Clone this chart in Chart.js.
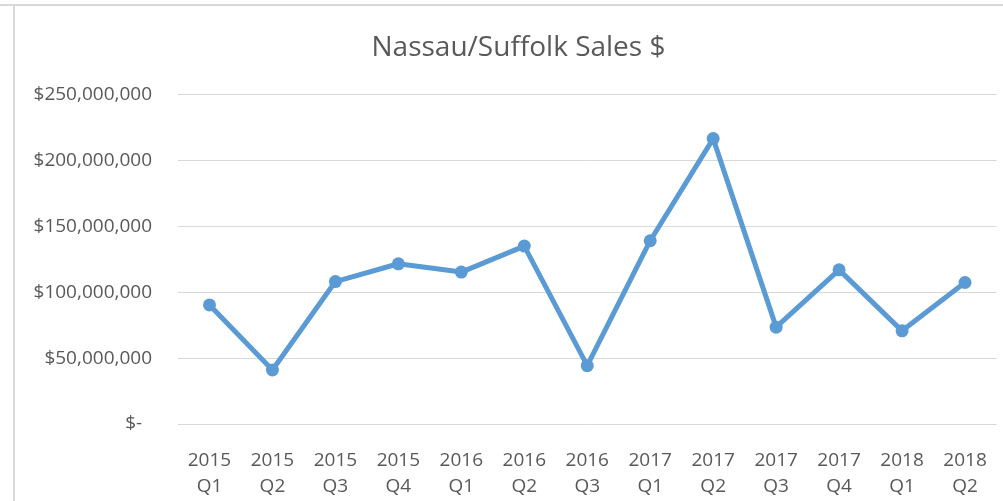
<!DOCTYPE html>
<html>
<head>
<meta charset="utf-8">
<script src="https://cdn.jsdelivr.net/npm/chart.js@4.4.0/dist/chart.umd.min.js"></script>
<style>
  html, body { margin: 0; padding: 0; background: #ffffff; }
  #wrap { position: relative; width: 1003px; height: 501px; overflow: hidden; }
  #topline { position: absolute; left: 0; top: 4px; width: 1003px; height: 2px; background: #d9d9d9; }
  #leftline { position: absolute; left: 13px; top: 4px; width: 2px; height: 497px; background: #d9d9d9; }
  canvas { position: absolute; left: 0; top: 0; }
</style>
</head>
<body>
<div id="wrap">
  <canvas id="c" width="1003" height="501"></canvas>
  <div id="topline"></div>
  <div id="leftline"></div>
</div>
<script>
const categories = [
  ['2015', 'Q1'], ['2015', 'Q2'], ['2015', 'Q3'], ['2015', 'Q4'],
  ['2016', 'Q1'], ['2016', 'Q2'], ['2016', 'Q3'],
  ['2017', 'Q1'], ['2017', 'Q2'], ['2017', 'Q3'], ['2017', 'Q4'],
  ['2018', 'Q1'], ['2018', 'Q2']
];
const salesValues = [
  90400000, 41000000, 108100000, 121600000,
  115300000, 135000000, 44300000,
  139100000, 216600000, 73500000, 117000000,
  70700000, 107400000
];
const yTickValues = [0, 50000000, 100000000, 150000000, 200000000, 250000000];
const chartTitle = 'Nassau/Suffolk Sales $';

const FONT = '"Open Sans", "Noto Sans", sans-serif';
const TEXT = '#595959';
const LINE = '#5b9bd5';

const shiftTitle = {
  id: 'shiftTitle',
  afterLayout(chart) {
    const t = chart.titleBlock;
    if (t) { t.left += 10; t.width -= 10; }
  }
};

new Chart(document.getElementById('c'), {
  type: 'line',
  plugins: [shiftTitle],
  data: {
    labels: categories,
    datasets: [{
      label: 'Sales',
      data: salesValues,
      borderColor: LINE,
      backgroundColor: LINE,
      borderWidth: 5,
      tension: 0,
      pointRadius: 6.5,
      pointBackgroundColor: LINE,
      pointBorderColor: LINE,
      pointBorderWidth: 0,
      borderJoinStyle: 'round',
      borderCapStyle: 'round'
    }]
  },
  options: {
    responsive: false,
    animation: false,
    layout: { padding: { left: 30, right: 6, top: 0, bottom: 0 } },
    plugins: {
      legend: { display: false },
      tooltip: { enabled: false },
      title: {
        display: true,
        text: chartTitle,
        color: TEXT,
        font: { family: FONT, size: 28, weight: 'normal', lineHeight: 1.2 },
        padding: { top: 31, bottom: 30 }
      }
    },
    scales: {
      x: {
        offset: true,
        grid: { display: false, offset: true },
        border: { display: false },
        ticks: {
          color: TEXT,
          font: { family: FONT, size: 19, lineHeight: 1.37 },
          maxRotation: 0,
          autoSkip: false,
          padding: 16
        },
        afterFit(scale) { scale.height = 77; }
      },
      y: {
        min: 0,
        max: 250000000,
        afterBuildTicks(scale) { scale.ticks = yTickValues.map(v => ({ value: v })); },
        grid: { color: '#d9d9d9', lineWidth: 1, drawTicks: false },
        border: { display: false },
        ticks: {
          color: TEXT,
          font: { family: FONT, size: 19 },
          padding: 26,
          callback(v) { return v === 0 ? '$-  ' : '$' + Number(v).toLocaleString('en-US'); }
        },
        afterFit(scale) { scale.width = 148; }
      }
    }
  }
});
</script>
</body>
</html>
